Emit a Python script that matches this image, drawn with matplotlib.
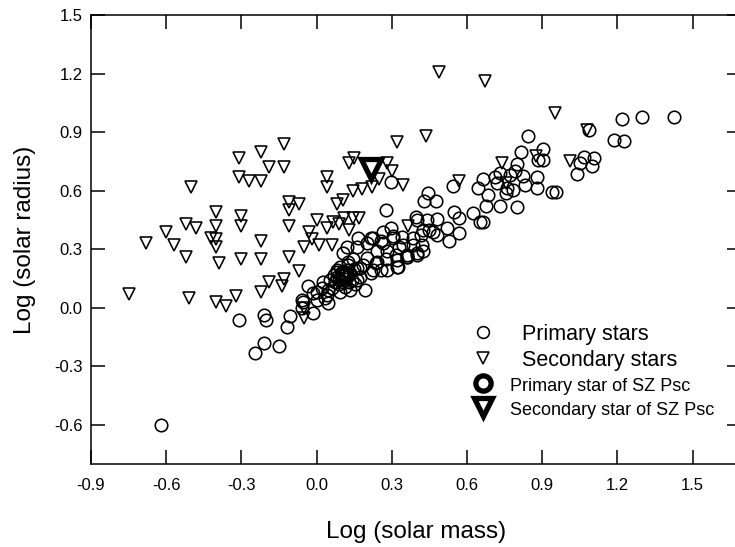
import matplotlib.pyplot as plt
from matplotlib.lines import Line2D

plt.rcParams['font.family'] = ['Liberation Sans', 'DejaVu Sans']
plt.rcParams['axes.unicode_minus'] = False

# Primary stars (log mass, log radius)
prim_mass = [
    -0.62, -0.31, -0.21, -0.20, -0.245, -0.21, -0.15, -0.12, -0.105, -0.06,
    -0.055, -0.035, -0.015, 0.00, 0.025, 0.045, -0.06, 0.00, 0.04, 0.045,
    0.12, 0.165, 0.20, 0.225, 0.265, 0.305, 0.345, 0.385, 0.42, 0.40,
    0.36, 0.315, 0.275, 0.235, 0.185, 0.145, 0.12, 0.095, 0.08, 0.105,
    0.14, 0.175, 0.215, 0.255, 0.325, 0.055, 0.06, 0.095, 0.135, 0.195,
    0.02, 0.035, -0.015,
    0.08, 0.10, 0.12, 0.09, 0.115, 0.13, 0.10, 0.075, 0.135, 0.155,
    0.11, 0.07, 0.15, 0.16, 0.125, 0.09, 0.08, 0.16, 0.125,
    0.295, 0.265, 0.305, 0.255, 0.215, 0.24, 0.28, 0.33, 0.385, 0.425,
    0.36, 0.32, 0.24, 0.20, 0.16, 0.105, 0.32, 0.28, 0.225, 0.175,
    0.40, 0.44, 0.45, 0.415, 0.48, 0.34,
    0.815, 0.905, 0.905, 0.885, 0.845, 0.80, 0.79, 0.77, 0.73, 0.665,
    0.645, 0.685, 0.72, 0.76, 0.785, 0.825, 0.83, 0.88, 0.88, 0.955,
    0.94, 0.80, 0.73, 0.675, 0.755, 0.445, 0.43, 0.475, 0.545, 0.625,
    0.55, 0.57, 0.65, 0.665, 0.395, 0.48, 0.52, 0.57, 0.53, 0.425,
    0.465, 0.36, 0.40, 0.275, 0.295, 1.065, 1.105, 1.05, 1.10, 1.04,
    1.22, 1.30, 1.425, 1.185, 1.225, 1.085, 0.71,
]
prim_radius = [
    -0.60, -0.06, -0.035, -0.06, -0.23, -0.18, -0.195, -0.10, -0.04, 0.00,
    0.03, 0.11, -0.025, 0.08, 0.13, 0.025, 0.04, 0.04, 0.065, 0.09,
    0.31, 0.36, 0.33, 0.36, 0.33, 0.37, 0.32, 0.36, 0.32, 0.27,
    0.26, 0.27, 0.25, 0.23, 0.22, 0.25, 0.195, 0.21, 0.16, 0.13,
    0.145, 0.16, 0.18, 0.195, 0.21, 0.145, 0.10, 0.08, 0.09, 0.09,
    0.10, 0.05, 0.075,
    0.195, 0.17, 0.16, 0.12, 0.105, 0.13, 0.185, 0.13, 0.18, 0.12,
    0.15, 0.17, 0.20, 0.14, 0.22, 0.14, 0.185, 0.205, 0.235,
    0.41, 0.39, 0.36, 0.34, 0.36, 0.29, 0.29, 0.31, 0.32, 0.29,
    0.27, 0.245, 0.235, 0.255, 0.31, 0.28, 0.21, 0.195, 0.195, 0.205,
    0.45, 0.45, 0.40, 0.375, 0.375, 0.365,
    0.80, 0.815, 0.755, 0.755, 0.88, 0.735, 0.70, 0.68, 0.69, 0.66,
    0.615, 0.58, 0.64, 0.615, 0.605, 0.675, 0.63, 0.67, 0.615, 0.595,
    0.595, 0.515, 0.52, 0.52, 0.59, 0.59, 0.545, 0.545, 0.625, 0.485,
    0.49, 0.46, 0.44, 0.44, 0.465, 0.455, 0.41, 0.385, 0.34, 0.40,
    0.39, 0.26, 0.28, 0.50, 0.645, 0.775, 0.77, 0.74, 0.725, 0.685,
    0.965, 0.98, 0.98, 0.86, 0.855, 0.91, 0.67,
]

# Secondary stars (log mass, log radius)
sec_mass = [
    -0.50, -0.31, -0.22, -0.13, -0.19, -0.13, -0.31, -0.27, -0.22, -0.40,
    -0.30, -0.52, -0.48, -0.40, -0.30, -0.60, -0.68, -0.57, -0.42, -0.40,
    -0.40, -0.22, -0.52, -0.39, -0.30, -0.22, -0.11, -0.11, -0.11, -0.11,
    -0.75, -0.51, -0.40, -0.36, -0.32, -0.22, -0.19, -0.14, -0.13,
    0.15, 0.13, 0.28, 0.30, 0.04, 0.04, 0.25, 0.22, 0.18, 0.145,
    0.105, 0.08, 0.345, 0.32, -0.07, 0.00, -0.03, 0.04, 0.09, 0.17,
    0.13, -0.02, -0.05, 0.01, 0.06, 0.365, 0.065, -0.07, -0.05, -0.05,
    0.57, 0.74, 0.875, 1.01, 0.755, 0.435, 0.49, 0.67, 0.95, 1.08,
    0.11, 0.145,
]
sec_radius = [
    0.62, 0.77, 0.80, 0.84, 0.72, 0.72, 0.67, 0.65, 0.65, 0.49,
    0.47, 0.43, 0.41, 0.42, 0.42, 0.39, 0.33, 0.32, 0.36, 0.35,
    0.31, 0.34, 0.26, 0.23, 0.25, 0.25, 0.54, 0.50, 0.42, 0.26,
    0.07, 0.05, 0.03, 0.01, 0.06, 0.08, 0.13, 0.11, 0.15,
    0.77, 0.74, 0.74, 0.70, 0.67, 0.62, 0.66, 0.62, 0.61, 0.60,
    0.55, 0.53, 0.63, 0.85, 0.53, 0.45, 0.39, 0.41, 0.43, 0.46,
    0.40, 0.35, 0.31, 0.32, 0.32, 0.42, 0.44, 0.19, 0.00, -0.05,
    0.65, 0.74, 0.78, 0.75, 0.64, 0.88, 1.21, 1.16, 1.00, 0.91,
    0.46, 0.46,
]

# SZ Psc components
sz_prim_mass = [0.11]
sz_prim_radius = [0.17]
sz_sec_mass = [0.215]
sz_sec_radius = [0.71]

xticks = [-0.9, -0.6, -0.3, 0.0, 0.3, 0.6, 0.9, 1.2, 1.5]
yticks = [-0.6, -0.3, 0.0, 0.3, 0.6, 0.9, 1.2, 1.5]

fig = plt.figure(figsize=(7.35, 5.47), dpi=100)
ax = fig.add_axes([91 / 735, 1 - 464 / 547, 650 / 735, 449 / 547])

small = dict(linestyle='none', mfc='none', mec='black', mew=1.15)
bold = dict(linestyle='none', mfc='none', mec='black', mew=3.8)
ax.plot(prim_mass, prim_radius, marker='o', ms=9, **small)
ax.plot(sec_mass, sec_radius, marker='v', ms=9, **small)
ax.plot(sz_prim_mass, sz_prim_radius, marker='o', ms=11, **bold)
ax.plot(sz_sec_mass, sz_sec_radius, marker='v', ms=14, **bold)

ax.set_xlim(-0.9, 1.693)
ax.set_ylim(-0.8, 1.5)
ax.set_xticks(xticks)
ax.set_xticklabels(['%.1f' % v for v in xticks])
ax.set_yticks(yticks)
ax.set_yticklabels(['%.1f' % v for v in yticks])
ax.tick_params(direction='in', length=10, width=1.1, top=True, right=True,
               labelsize=12)
ax.tick_params(axis='x', pad=10)
ax.tick_params(axis='y', pad=6)
for sp in ax.spines.values():
    sp.set_linewidth(1.1)

ax.set_xlabel('Log (solar mass)', fontsize=17.5, labelpad=20)
ax.set_ylabel('Log (solar radius)', fontsize=17.5, labelpad=13)

handles = [
    Line2D([], [], marker='o', ms=8.5, **small),
    Line2D([], [], marker='v', ms=8, **small),
    Line2D([], [], marker='o', ms=11, **bold),
    Line2D([], [], marker='v', ms=13, **bold),
]
labels = ['  Primary stars', '  Secondary stars',
          'Primary star of SZ Psc', 'Secondary star of SZ Psc']
leg = ax.legend(handles, labels, loc='upper left',
                bbox_to_anchor=(467 / 735, 1 - 324 / 547),
                bbox_transform=fig.transFigure, frameon=False, borderpad=0,
                borderaxespad=0, handlelength=1.5, handletextpad=0.5,
                labelspacing=0.23, prop={'size': 15.5})
for t in leg.get_texts()[2:]:
    t.set_fontsize(13)

fig.savefig('out.png', dpi=100)
